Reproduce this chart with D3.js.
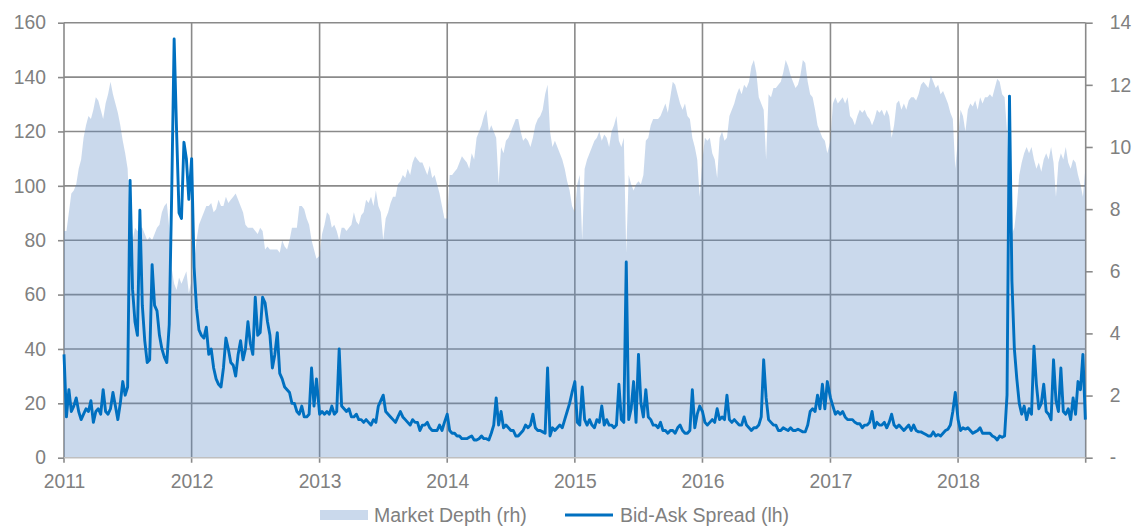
<!DOCTYPE html>
<html><head><meta charset="utf-8">
<script src="https://cdn.jsdelivr.net/npm/d3@7"></script>
<style>body{margin:0;background:#fff}svg{display:block}</style>
</head><body><svg id="c" width="1140" height="526"></svg>
<script>
// ---- data (weekly readings) ----
const years = [2011,2012,2013,2014,2015,2016,2017,2018];

// Bid-Ask Spread (left axis)
const spread2011 = [38,15,25,17,19,22,17,14,16,18,17,21,13,17,18,16,25,17,16,18,24,19,14,20,28,23,26,102,62,50,45,91,56,43,35,36,71,56,54,45,40,37,35,49,97,154,120,90,88,116,110,95];
const spread2012 = [110,70,55,47,45,44,48,38,40,33,29,27,26,33,44,40,35,34,30,38,43,36,40,50,42,38,59,45,46,59,57,50,45,33,38,46,31,29,26,25,24,20,20,17,16,19,15,15,16,33,19,29];
const spread2013 = [16,17,16,17,16,19,16,17,40,19,18,17,18,15,15,16,14,14,13,14,13,12,14,13,19,21,23,17,16,15,14,13,15,17,15,14,13,12,14,13,13,10,12,12,13,11,10,10,10,12,10,13];
const spread2014 = [16,10,9,9,8,8,7,7,7,7.5,8,6.5,6.5,7,8,7,7,6.5,9,12,22,12,17,11,12,11,10,10,8,8,9,10,12,11,12,16,11,10,10,9.5,9,33,8,11,10,11,12,11,14,17,20,24];
const spread2015 = [28,13,12,26,14,12,14,12,11,14,13,19,12,14,12,12,11,12,27,14,13,72,14,18,28,13,38,20,15,25,15,14,12,12,11,13,10,10,9,10,10,9,11,12,10,9,9,10,25,11,16,19];
const spread2016 = [17,13,12,13,14,13,18,14,15,14,23,14,13,14,13,12,12,15,12,11,10,11,11,12,15,36,22,14,13,12,12,10,10,11,10.5,10,11,10,10,10.5,10,9.5,9.5,12,17,18,17,23,18,27,18,28];
const spread2017 = [22,19,16,17,16,17,15,14,14,14,13,12.5,12.5,11,12,12,13,17,11,13,12,12,13,11,13,16,12,11,12,11,10,11,12,10,12,10,9.5,9.5,9,8.5,8,8,9.5,8,8.5,8,9,10,10.5,12,17,24];
const spread2018 = [14,10,11,10.5,11,10,9,9.5,10,11,9,9,9,9,8,7.5,6.5,8,7.5,8,23,133,65,40,29,20,16,19,14,18,16,41,27,18,20,27,17,16,14,36,21,17,33,17,16,18,14,22,16,28,25,38,14];

// Market Depth (right axis)
const depth2011 = [7.3,7.3,7.9,8.5,8.6,8.8,9.3,9.6,10.3,10.7,11.0,10.9,11.2,11.6,11.5,11.2,10.9,11.4,11.7,12.1,11.7,11.4,11.1,10.7,10.2,9.8,9.3,7.2,7.0,7.4,7.3,7.4,7.4,7.2,7.0,7.1,7.0,7.2,7.4,7.5,7.9,8.1,8.2,7.4,6.1,5.6,5.4,5.8,5.6,5.8,6.0,5.3];
const depth2012 = [5.7,6.3,7.0,7.5,7.7,7.9,8.1,8.1,8.2,7.9,8.0,8.3,8.1,8.1,8.4,8.2,8.3,8.4,8.5,8.3,8.1,7.9,7.5,7.4,7.4,7.4,7.3,7.2,7.4,7.3,6.7,6.8,6.7,6.7,6.7,6.7,6.6,7.0,6.8,6.7,7.0,7.4,7.4,7.4,8.1,8.1,8.0,7.7,7.5,7.0,6.7,6.4];
const depth2013 = [6.5,7.2,7.5,7.9,7.8,7.4,7.5,7.3,7.0,7.4,7.4,7.3,7.4,7.5,7.9,7.6,7.5,7.8,7.9,8.3,8.2,8.4,8.1,8.6,8.1,7.9,7.0,7.7,7.9,8.2,8.4,8.4,8.8,8.9,9.1,9.0,9.3,9.1,9.5,9.7,9.6,9.5,9.5,9.3,9.1,9.4,9.0,9.1,8.8,8.5,8.1,7.7];
const depth2014 = [7.7,9.1,9.1,9.2,9.3,9.5,9.7,9.6,9.5,9.3,9.8,9.6,10.3,10.5,10.7,11.0,11.2,10.5,10.7,10.5,10.3,8.8,10.0,9.8,10.2,10.3,10.5,10.7,10.9,10.9,10.5,10.2,10.3,10.2,10.0,10.3,10.7,10.9,11.0,11.2,11.7,12.0,10.5,10.0,10.2,10.0,9.8,9.6,9.3,8.9,8.6,8.1];
const depth2015 = [7.9,8.8,9.1,7.0,9.3,9.6,9.8,10.0,10.2,10.3,10.5,10.2,10.4,10.3,10.0,10.5,10.7,11.0,10.2,10.0,10.3,6.6,9.1,8.8,8.6,8.8,8.9,8.8,9.1,10.2,10.3,10.7,10.9,10.9,10.9,11.0,11.2,11.4,11.1,11.6,12.1,12.0,11.7,11.4,11.2,11.4,11.0,10.9,10.3,10.0,9.6,8.4];
const depth2016 = [9.6,10.3,10.2,10.3,9.8,9.6,9.0,10.3,10.5,10.2,10.3,11.0,11.2,11.4,11.7,11.9,11.7,12.0,11.9,12.1,12.6,12.8,12.4,11.6,11.4,11.2,9.6,11.7,11.6,11.9,11.9,12.0,12.1,12.4,12.8,12.6,12.3,12.1,11.9,12.0,12.3,12.8,12.7,12.1,11.7,11.6,11.2,10.7,10.5,10.3,10.2,9.8];
const depth2017 = [10.2,11.4,11.6,11.4,11.5,11.6,11.4,11.6,11.0,10.9,10.7,11.0,11.2,11.1,11.2,11.0,10.9,10.7,10.9,11.2,11.1,11.2,11.0,11.2,11.0,10.3,10.7,11.4,11.5,11.2,11.4,11.2,11.5,11.6,11.6,11.5,11.7,12.0,12.1,12.0,11.9,12.3,12.1,11.9,12.0,11.7,11.8,11.6,11.4,11.1,10.9,9.3];
const depth2018 = [10.3,11.2,11.0,10.5,11.2,11.4,11.3,11.5,11.2,11.6,11.4,11.6,11.6,11.7,11.6,11.9,12.2,12.1,11.7,11.6,10.5,7.9,7.2,7.4,8.1,9.1,9.5,9.8,10.0,9.8,10.0,9.6,9.3,9.5,9.2,9.6,9.8,9.6,10.0,9.5,8.4,9.5,9.8,9.6,10.0,9.5,9.3,9.6,9.5,9.1,8.8,8.4,9.3];

const leftTicks = [0,20,40,60,80,100,120,140,160];
const rightTicks = [0,2,4,6,8,10,12,14];
const rightTickLabels = ["-","2","4","6","8","10","12","14"];
const xTickYears = [2011,2012,2013,2014,2015,2016,2017,2018];
const legendLabels = ["Market Depth (rh)","Bid-Ask Spread (lh)"];

// ---- build ----
const spreadByYear = [spread2011,spread2012,spread2013,spread2014,spread2015,spread2016,spread2017,spread2018];
const depthByYear = [depth2011,depth2012,depth2013,depth2014,depth2015,depth2016,depth2017,depth2018];
function weekly(year, arr){ return arr.map((v,i)=>({date:new Date(year,0,1+7*i), value:v})); }
const spread = years.flatMap((y,k)=>weekly(y, spreadByYear[k]));
const depth = years.flatMap((y,k)=>weekly(y, depthByYear[k]));

const L = 64, R = 1085.7, T = 22.7, B = 457.7;
const svg = d3.select("#c");
const x = d3.scaleTime().domain([new Date(2011,0,1), new Date(2019,0,1)]).range([L, R]);
const yL = d3.scaleLinear().domain([0,160]).range([B, T]);
const yR = d3.scaleLinear().domain([0,14]).range([B, T]);
const font = "'Liberation Sans', Arial, sans-serif";
const txt = "#808080";
const gridC = "#8a8a8a";
const gw = 1.6;

// grid
const g = svg.append("g");
g.selectAll("line.h").data(leftTicks.filter(d=>d>0)).join("line")
  .attr("x1", L).attr("x2", R).attr("y1", d=>yL(d)).attr("y2", d=>yL(d))
  .attr("stroke", gridC).attr("stroke-width", gw);
g.selectAll("line.v").data(xTickYears.concat([2019])).join("line")
  .attr("x1", d=>x(new Date(d,0,1))).attr("x2", d=>x(new Date(d,0,1)))
  .attr("y1", T).attr("y2", B + 5)
  .attr("stroke", gridC).attr("stroke-width", gw);

// area
svg.append("path").datum(depth)
  .attr("d", d3.area().x(d=>x(d.date)).y0(yR(0)).y1(d=>yR(d.value)))
  .attr("fill", "#5b8ac4").attr("fill-opacity", 0.32);

// bottom axis line
svg.append("line").attr("x1", L).attr("x2", R).attr("y1", B).attr("y2", B)
  .attr("stroke", "#bfbfbf").attr("stroke-width", gw);

// left axis
const la = svg.append("g").attr("transform", `translate(${L},0)`)
  .call(d3.axisLeft(yL).tickValues(leftTicks).tickSize(6).tickPadding(12));
la.select(".domain").remove();
la.selectAll("line").attr("stroke", gridC).attr("stroke-width", gw);
la.selectAll("text").attr("font-family", font).attr("font-size", 19.3).attr("fill", txt);

// right axis
const ra = svg.append("g").attr("transform", `translate(${R},0)`)
  .call(d3.axisRight(yR).tickValues(rightTicks).tickFormat((d,i)=>rightTickLabels[i]).tickSize(7).tickPadding(17));
ra.select(".domain").remove();
ra.selectAll("line").attr("stroke", gridC).attr("stroke-width", gw);
ra.selectAll("text").attr("font-family", font).attr("font-size", 19.3).attr("fill", txt);

// bottom labels
const xa = svg.append("g").attr("transform", `translate(0,${B})`)
  .call(d3.axisBottom(x).tickValues(xTickYears.map(y=>new Date(y,0,1))).tickFormat(d3.timeFormat("%Y")).tickSize(0).tickPadding(17));
xa.select(".domain").remove();
xa.selectAll("text").attr("font-family", font).attr("font-size", 19.3).attr("fill", txt);

// line
svg.append("path").datum(spread)
  .attr("d", d3.line().x(d=>x(d.date)).y(d=>yL(d.value)))
  .attr("fill", "none").attr("stroke", "#0070c0").attr("stroke-width", 2.9)
  .attr("stroke-linejoin", "round");

// legend
const lg = svg.append("g");
lg.append("rect").attr("x", 320).attr("y", 510).attr("width", 48).attr("height", 10).attr("fill", "#5b8ac4").attr("fill-opacity", 0.32);
lg.append("text").attr("x", 374).attr("y", 521.5).text(legendLabels[0])
  .attr("font-family", font).attr("font-size", 19.5).attr("fill", txt);
lg.append("line").attr("x1", 565).attr("x2", 613).attr("y1", 515).attr("y2", 515)
  .attr("stroke", "#0070c0").attr("stroke-width", 3);
lg.append("text").attr("x", 620).attr("y", 521.5).text(legendLabels[1])
  .attr("font-family", font).attr("font-size", 19.5).attr("fill", txt);
</script></body></html>
